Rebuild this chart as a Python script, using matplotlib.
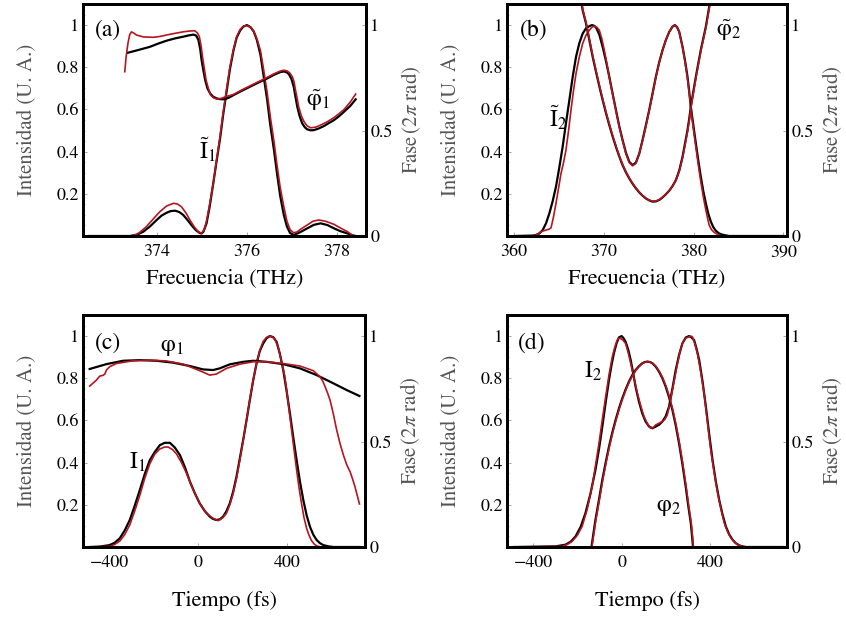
import matplotlib
matplotlib.use('Agg')
import matplotlib.pyplot as plt
from matplotlib.ticker import MultipleLocator

plt.rcParams['font.family'] = ['STIXGeneral', 'DejaVu Serif']
plt.rcParams['mathtext.fontset'] = 'stix'

BLACK = '#000000'
RED = '#b3161f'
GRAY = '#555555'

# ---------- (a) espectro del pulso 1 ----------
a_I_black_x = [372.49, 373.39, 373.55, 373.69, 373.84, 373.99, 374.10, 374.21, 374.30, 374.40, 374.49,
               374.58, 374.68, 374.77, 374.86, 374.95, 374.99, 375.03, 375.10, 375.17, 375.25, 375.32,
               375.40, 375.47, 375.55, 375.62, 375.70, 375.77, 375.85, 375.92, 376.00, 376.08, 376.15,
               376.22, 376.30, 376.37, 376.45, 376.52, 376.60, 376.67, 376.74, 376.82, 376.89, 376.96,
               377.04, 377.12, 377.20, 377.34, 377.49, 377.64, 377.79, 377.94, 378.09, 378.24, 378.34,
               378.42]
a_I_black_y = [0, 0, 0.006, 0.02, 0.045, 0.076, 0.097, 0.11, 0.118, 0.12, 0.114,
               0.10, 0.075, 0.05, 0.028, 0.014, 0.012, 0.02, 0.06, 0.14, 0.25, 0.35,
               0.46, 0.575, 0.69, 0.79, 0.88, 0.94, 0.975, 0.993, 1.0, 0.99, 0.97,
               0.93, 0.86, 0.76, 0.645, 0.525, 0.41, 0.295, 0.19, 0.10, 0.045, 0.014,
               0.005, 0.012, 0.02, 0.036, 0.053, 0.06, 0.052, 0.036, 0.022, 0.012, 0.004,
               0]
a_I_red_x = [372.49, 373.46, 373.60, 373.76, 373.91, 374.06, 374.21, 374.36, 374.45, 374.54, 374.64,
             374.73, 374.83, 374.92, 374.99, 375.05, 375.10, 375.17, 375.25, 375.32, 375.40, 375.47,
             375.55, 375.62, 375.70, 375.77, 375.85, 375.92, 376.00, 376.08, 376.15, 376.22, 376.30,
             376.37, 376.45, 376.52, 376.60, 376.67, 376.74, 376.82, 376.89, 376.96, 377.04, 377.12,
             377.20, 377.34, 377.47, 377.60, 377.75, 377.94, 378.09, 378.24, 378.32, 378.38]
a_I_red_y = [0, 0, 0.015, 0.044, 0.08, 0.115, 0.142, 0.155, 0.152, 0.139, 0.11,
             0.076, 0.042, 0.02, 0.013, 0.03, 0.07, 0.15, 0.25, 0.355, 0.47, 0.585,
             0.70, 0.80, 0.885, 0.945, 0.98, 0.995, 0.998, 0.99, 0.97, 0.935, 0.88,
             0.79, 0.68, 0.565, 0.45, 0.335, 0.23, 0.14, 0.07, 0.03, 0.015, 0.02,
             0.033, 0.052, 0.07, 0.076, 0.07, 0.055, 0.037, 0.02, 0.008, 0]
a_ph_black_x = [373.35, 373.60, 373.84, 374.02, 374.21, 374.40, 374.58, 374.70, 374.81, 374.87, 374.92,
                374.96, 374.99, 375.03, 375.07, 375.12, 375.18, 375.25, 375.33, 375.40, 375.48, 375.59,
                375.70, 375.88, 376.07, 376.26, 376.45, 376.60, 376.74, 376.82, 376.89, 376.94, 376.99,
                377.04, 377.08, 377.12, 377.17, 377.23, 377.29, 377.34, 377.42, 377.49, 377.60, 377.71,
                377.82, 377.94, 378.05, 378.16, 378.30, 378.42]
a_ph_black_y = [0.869, 0.883, 0.897, 0.912, 0.926, 0.937, 0.945, 0.951, 0.955, 0.95, 0.929,
                0.885, 0.834, 0.785, 0.739, 0.70, 0.676, 0.66, 0.652, 0.649, 0.648, 0.655,
                0.668, 0.688, 0.708, 0.728, 0.747, 0.764, 0.777, 0.78, 0.776, 0.765, 0.745,
                0.708, 0.66, 0.613, 0.57, 0.534, 0.515, 0.506, 0.501, 0.502, 0.51, 0.521,
                0.535, 0.55, 0.568, 0.589, 0.617, 0.648]
a_ph_red_x = [373.28, 373.31, 373.35, 373.39, 373.43, 373.48, 373.54, 373.69, 373.91, 374.06, 374.21,
              374.40, 374.58, 374.72, 374.84, 374.90, 374.94, 374.98, 375.01, 375.05, 375.09, 375.14,
              375.19, 375.26, 375.33, 375.42, 375.52, 375.70, 375.88, 376.07, 376.26, 376.45, 376.60,
              376.74, 376.82, 376.89, 376.95, 377.01, 377.05, 377.08, 377.12, 377.15, 377.21, 377.27,
              377.34, 377.42, 377.53, 377.64, 377.79, 377.94, 378.05, 378.16, 378.30, 378.42]
a_ph_red_y = [0.779, 0.85, 0.913, 0.955, 0.968, 0.962, 0.953, 0.944, 0.942, 0.946, 0.953,
              0.961, 0.968, 0.972, 0.973, 0.962, 0.945, 0.90, 0.85, 0.795, 0.739, 0.70,
              0.668, 0.655, 0.649, 0.652, 0.66, 0.671, 0.692, 0.712, 0.732, 0.752, 0.769,
              0.782, 0.786, 0.783, 0.774, 0.755, 0.73, 0.692, 0.65, 0.613, 0.57, 0.542,
              0.522, 0.513, 0.516, 0.526, 0.542, 0.562, 0.58, 0.60, 0.635, 0.673]

# ---------- (b) espectro del pulso 2 ----------
b_I_black_x = [360.07, 362.11, 362.48, 362.85, 363.22, 363.59, 363.96, 364.33, 364.70, 365.07, 365.44,
               365.81, 366.19, 366.56, 366.93, 367.30, 367.67, 368.04, 368.41, 368.70, 368.93, 369.15,
               369.52, 369.89, 370.26, 370.63, 371.00, 371.37, 371.74, 372.11, 372.48, 372.85, 373.22,
               373.59, 373.96, 374.33, 374.70, 375.07, 375.44, 375.81, 376.19, 376.56, 376.93, 377.30,
               377.67, 377.93, 378.17, 378.41, 378.78, 379.06, 379.33, 379.52, 379.70, 379.98, 380.26,
               380.54, 380.81, 381.09, 381.37, 381.65, 381.93, 382.20, 382.48, 382.85, 383.22, 383.96,
               389.89]
b_I_black_y = [0, 0.002, 0.005, 0.012, 0.028, 0.06, 0.107, 0.165, 0.234, 0.325, 0.423,
               0.535, 0.645, 0.755, 0.85, 0.915, 0.96, 0.985, 0.995, 1.0, 0.997, 0.989,
               0.955, 0.897, 0.83, 0.755, 0.675, 0.597, 0.52, 0.455, 0.395, 0.352, 0.336,
               0.348, 0.39, 0.455, 0.525, 0.597, 0.675, 0.755, 0.825, 0.882, 0.93, 0.968,
               0.993, 1.0, 0.99, 0.968, 0.897, 0.83, 0.755, 0.685, 0.613, 0.525, 0.439,
               0.355, 0.281, 0.212, 0.155, 0.105, 0.068, 0.042, 0.025, 0.012, 0.006, 0,
               0]
b_I_red_x = [362.11, 362.67, 363.04, 363.59, 363.96, 364.15, 364.42, 364.70, 365.00, 365.26, 365.55,
             365.81, 366.10, 366.37, 366.65, 366.93, 367.30, 367.67, 368.04, 368.41, 368.70, 368.96,
             369.24, 369.52, 369.80, 370.07, 370.35, 370.63, 371.00, 371.37, 371.74, 372.11, 372.48,
             372.85, 373.22, 373.59, 373.96, 374.33, 374.70, 375.07, 375.44, 375.81, 376.19, 376.56,
             376.93, 377.30, 377.67, 377.93, 378.17, 378.41, 378.78, 379.06, 379.33, 379.52, 379.70,
             379.98, 380.26, 380.54, 380.81, 381.09, 381.37, 381.56, 381.74, 382.00, 382.30, 382.85,
             383.41, 389.89]
b_I_red_y = [0, 0.008, 0.021, 0.028, 0.033, 0.039, 0.09, 0.155, 0.23, 0.297, 0.35,
             0.408, 0.50, 0.597, 0.69, 0.771, 0.85, 0.913, 0.952, 0.976, 0.99, 0.995,
             0.99, 0.976, 0.935, 0.882, 0.82, 0.752, 0.672, 0.594, 0.518, 0.452, 0.39,
             0.348, 0.333, 0.344, 0.39, 0.452, 0.52, 0.594, 0.672, 0.752, 0.822, 0.882,
             0.93, 0.968, 0.993, 1.0, 0.99, 0.968, 0.894, 0.825, 0.747, 0.68, 0.605,
             0.51, 0.423, 0.335, 0.258, 0.185, 0.123, 0.085, 0.052, 0.03, 0.017, 0.003,
             0, 0]
b_ph_black_x = [367.37, 367.67, 368.04, 368.41, 368.78, 369.15, 369.52, 369.89, 370.26, 370.63, 371.00,
                371.37, 371.74, 372.11, 372.48, 372.85, 373.22, 373.59, 373.96, 374.33, 374.70, 375.07,
                375.44, 375.81, 376.19, 376.56, 376.93, 377.30, 377.67, 378.04, 378.41, 378.78, 379.06,
                379.33, 379.52, 379.70, 379.98, 380.26, 380.54, 380.81, 381.09, 381.37, 381.60, 381.81,
                382.04]
b_ph_black_y = [1.15, 1.07, 1.008, 0.929, 0.85, 0.779, 0.71, 0.645, 0.583, 0.526, 0.472,
                0.423, 0.377, 0.336, 0.302, 0.273, 0.248, 0.226, 0.207, 0.191, 0.178, 0.169,
                0.163, 0.164, 0.171, 0.183, 0.198, 0.215, 0.237, 0.265, 0.31, 0.376, 0.44,
                0.502, 0.555, 0.613, 0.685, 0.755, 0.82, 0.882, 0.937, 0.992, 1.05, 1.103,
                1.15]
b_ph_red_x = [367.40, 367.70, 368.07, 368.44, 368.81, 369.18, 369.55, 369.92, 370.29, 370.66, 371.03,
              371.40, 371.77, 372.14, 372.51, 372.88, 373.25, 373.62, 373.99, 374.36, 374.73, 375.10,
              375.47, 375.84, 376.22, 376.59, 376.96, 377.33, 377.70, 378.07, 378.44, 378.81, 379.09,
              379.36, 379.55, 379.73, 380.01, 380.29, 380.57, 380.84, 381.12, 381.40, 381.63, 381.84,
              382.07]
b_ph_red_y = [1.15, 1.07, 1.008, 0.929, 0.85, 0.779, 0.71, 0.645, 0.583, 0.526, 0.472,
              0.423, 0.377, 0.336, 0.302, 0.273, 0.248, 0.226, 0.207, 0.191, 0.178, 0.169,
              0.165, 0.166, 0.173, 0.185, 0.2, 0.217, 0.239, 0.267, 0.31, 0.376, 0.44,
              0.502, 0.555, 0.613, 0.685, 0.755, 0.82, 0.882, 0.937, 0.992, 1.05, 1.103,
              1.15]

# ---------- (c) pulso 1 en el tiempo ----------
c_I_black_x = [-487, -442, -397, -375, -352, -330, -307, -285, -262, -240, -217, -195, -172, -150,
               -127, -105, -82, -60, -37, -15, 7, 30, 52, 67, 82, 97, 112, 127, 142, 157, 172, 187,
               202, 217, 232, 247, 262, 277, 292, 307, 322, 337, 352, 367, 382, 397, 412, 427, 442,
               457, 472, 487, 502, 517, 532, 547, 562, 585, 607, 724]
c_I_black_y = [0, 0.002, 0.009, 0.02, 0.041, 0.078, 0.128, 0.195, 0.27, 0.345, 0.412, 0.45, 0.483,
               0.494, 0.494, 0.472, 0.436, 0.38, 0.31, 0.255, 0.207, 0.17, 0.144, 0.133, 0.128,
               0.131, 0.144, 0.17, 0.207, 0.262, 0.333, 0.42, 0.507, 0.60, 0.697, 0.79, 0.87, 0.93,
               0.965, 0.99, 1.0, 0.995, 0.973, 0.915, 0.839, 0.74, 0.633, 0.52, 0.412, 0.31, 0.223,
               0.15, 0.096, 0.058, 0.033, 0.018, 0.009, 0.003, 0, 0]
c_I_red_x = [-487, -397, -375, -352, -330, -307, -285, -262, -240, -217, -195, -172, -150, -135,
             -115, -97, -75, -52, -22, 7, 37, 67, 90, 110, 127, 142, 157, 172, 187, 202, 217, 232,
             247, 262, 277, 292, 307, 320, 330, 345, 360, 375, 389, 400, 412, 427, 442, 453, 464,
             475, 487, 498, 509, 520, 532, 547, 562, 724]
c_I_red_y = [0, 0.003, 0.012, 0.028, 0.058, 0.105, 0.17, 0.245, 0.325, 0.395, 0.44, 0.465, 0.474,
             0.474, 0.462, 0.441, 0.40, 0.349, 0.27, 0.207, 0.16, 0.136, 0.125, 0.138, 0.16, 0.2,
             0.254, 0.325, 0.412, 0.505, 0.602, 0.70, 0.791, 0.87, 0.934, 0.975, 0.994, 1.0,
             0.998, 0.985, 0.945, 0.875, 0.807, 0.72, 0.618, 0.49, 0.365, 0.28, 0.207, 0.14,
             0.088, 0.055, 0.03, 0.015, 0.005, 0.001, 0, 0]
c_ph_black_x = [-487, -412, -337, -262, -187, -112, -37, 22, 67, 97, 142, 202, 247, 307, 382, 457,
                532, 607, 667, 724]
c_ph_black_y = [0.844, 0.867, 0.883, 0.886, 0.883, 0.874, 0.858, 0.842, 0.839, 0.847, 0.866, 0.878,
                0.883, 0.878, 0.867, 0.847, 0.815, 0.776, 0.744, 0.716]
c_ph_red_x = [-487, -457, -442, -427, -419, -412, -397, -367, -292, -217, -142, -67, 7, 52, 82, 127,
              187, 247, 307, 382, 457, 517, 547, 560, 570, 581, 592, 607, 622, 637, 652, 667, 682,
              694, 704, 714, 724]
c_ph_red_y = [0.763, 0.791, 0.81, 0.814, 0.82, 0.839, 0.855, 0.87, 0.883, 0.886, 0.882, 0.867,
              0.836, 0.815, 0.82, 0.847, 0.867, 0.878, 0.878, 0.87, 0.858, 0.836, 0.807, 0.785,
              0.76, 0.73, 0.697, 0.63, 0.554, 0.49, 0.436, 0.39, 0.357, 0.32, 0.286, 0.245, 0.204]

# ---------- (d) pulso 2 en el tiempo ----------
d_I_black_x = [-487, -298, -253, -230, -208, -185, -163, -140, -118, -102, -87, -72, -57, -46, -35,
               -23, -12, 0, 9, 18, 30, 41, 52, 63, 78, 93, 108, 124, 139, 154, 169, 184, 199, 214,
               229, 244, 259, 274, 289, 304, 316, 327, 338, 350, 365, 380, 395, 410, 425, 440, 455,
               470, 485, 500, 515, 530, 545, 561, 726]
d_I_black_y = [0, 0.003, 0.011, 0.025, 0.05, 0.095, 0.161, 0.255, 0.366, 0.465, 0.571, 0.685, 0.792,
               0.86, 0.918, 0.965, 0.994, 1.0, 0.99, 0.973, 0.935, 0.886, 0.825, 0.76, 0.69, 0.634,
               0.595, 0.571, 0.563, 0.571, 0.58, 0.595, 0.62, 0.666, 0.75, 0.839, 0.91, 0.965,
               0.993, 1.0, 0.993, 0.981, 0.94, 0.886, 0.785, 0.666, 0.535, 0.413, 0.31, 0.224,
               0.155, 0.098, 0.06, 0.035, 0.018, 0.008, 0.003, 0, 0]
d_I_red_x = [-487, -268, -245, -223, -200, -178, -155, -133, -118, -102, -87, -72, -57, -42, -30,
             -20, -12, -5, 5, 18, 30, 41, 56, 71, 86, 101, 116, 131, 142, 154, 169, 184, 195, 206,
             218, 229, 241, 252, 263, 274, 289, 304, 312, 319, 330, 342, 357, 372, 387, 402, 418,
             433, 448, 463, 478, 493, 508, 523, 540, 561, 726]
d_I_red_y = [0, 0.003, 0.012, 0.027, 0.055, 0.098, 0.18, 0.287, 0.385, 0.492, 0.605, 0.713, 0.815,
             0.902, 0.95, 0.981, 0.99, 0.989, 0.982, 0.965, 0.92, 0.871, 0.80, 0.729, 0.67, 0.618,
             0.585, 0.563, 0.566, 0.579, 0.587, 0.595, 0.605, 0.626, 0.68, 0.744, 0.81, 0.871,
             0.925, 0.965, 0.99, 0.997, 1.0, 0.997, 0.965, 0.918, 0.83, 0.729, 0.595, 0.461, 0.35,
             0.256, 0.18, 0.114, 0.072, 0.043, 0.024, 0.011, 0.004, 0, 0]
d_ph_black_x = [-136, -127, -118, -102, -87, -72, -57, -42, -27, -12, 3, 18, 33, 48, 63, 78, 93, 105,
                116, 128, 139, 154, 169, 184, 199, 214, 229, 244, 259, 274, 289, 300, 312, 317, 322]
d_ph_black_y = [0, 0.065, 0.129, 0.225, 0.319, 0.40, 0.476, 0.543, 0.603, 0.657, 0.705, 0.747,
                0.784, 0.815, 0.839, 0.857, 0.871, 0.877, 0.879, 0.877, 0.871, 0.855, 0.831, 0.80,
                0.76, 0.71, 0.65, 0.577, 0.492, 0.395, 0.287, 0.2, 0.114, 0.06, 0]
d_ph_red_x = [-134, -125, -116, -100, -85, -70, -55, -40, -25, -10, 5, 20, 35, 50, 65, 80, 95, 107,
              118, 130, 141, 156, 171, 186, 201, 216, 231, 246, 261, 276, 291, 302, 314, 319, 324]
d_ph_red_y = [0, 0.065, 0.129, 0.225, 0.319, 0.40, 0.476, 0.543, 0.603, 0.657, 0.705, 0.747,
              0.784, 0.815, 0.839, 0.857, 0.871, 0.877, 0.879, 0.877, 0.871, 0.855, 0.831, 0.80,
              0.76, 0.71, 0.65, 0.577, 0.492, 0.395, 0.287, 0.2, 0.114, 0.06, 0]

# etiquetas
freq_label = 'Frecuencia (THz)'
time_label = 'Tiempo (fs)'
left_label = 'Intensidad (U. A.)'
right_label = r'Fase$\,$(2$\pi$ rad)'
left_ticks = [0.2, 0.4, 0.6, 0.8, 1.0]
left_ticklabels = ['0.2', '0.4', '0.6', '0.8', '1']
right_ticks = [0, 0.5, 1.0]
right_ticklabels = ['0', '0.5', '1']


def style_panel(ax, xlim, xticks, xticklabels, xlabel, xlabelpad):
    ax.set_xlim(*xlim)
    ax.set_ylim(0, 1.1)
    ax.set_xticks(xticks)
    ax.set_xticklabels(xticklabels)
    ax.set_yticks(left_ticks)
    ax.set_yticklabels(left_ticklabels)
    ax.yaxis.set_minor_locator(MultipleLocator(0.05))
    ax.tick_params(which='both', direction='in', color='#999999', width=0.6, labelsize=13)
    ax.tick_params(which='major', length=3)
    ax.tick_params(which='minor', length=1.5)
    ax.tick_params(axis='x', pad=6)
    ax.tick_params(axis='y', pad=3)
    ax.set_xlabel(xlabel, fontsize=16, labelpad=xlabelpad)
    ax.set_ylabel(left_label, fontsize=15, color=GRAY, labelpad=14)
    for s in ax.spines.values():
        s.set_linewidth(2.0)
    ax2 = ax.twinx()
    ax2.set_ylim(0, 1.1)
    ax2.set_yticks(right_ticks)
    ax2.set_yticklabels(right_ticklabels)
    ax2.tick_params(direction='in', color='#999999', width=0.6, length=3, labelsize=13, pad=3)
    ax2.set_ylabel(right_label, fontsize=15, color=GRAY, labelpad=5)
    for s in ax2.spines.values():
        s.set_linewidth(2.0)
    return ax2


def draw(ax, bx, by, rx, ry):
    ax.plot(bx, by, color=BLACK, lw=1.6)
    ax.plot(rx, ry, color=RED, lw=1.2)


fig = plt.figure(figsize=(8.46, 6.22), dpi=100)
W, H = 846, 622
ax_a = fig.add_axes([83 / W, (H - 236) / H, 283 / W, 232 / H])
ax_b = fig.add_axes([507 / W, (H - 236) / H, 280 / W, 232 / H])
ax_c = fig.add_axes([83 / W, (H - 547) / H, 282 / W, 232 / H])
ax_d = fig.add_axes([507 / W, (H - 547) / H, 280 / W, 232 / H])

ax_a2 = style_panel(ax_a, (372.35, 378.65), [374, 376, 378], ['374', '376', '378'], freq_label, 6)
ax_b2 = style_panel(ax_b, (359.25, 390.4), [360, 370, 380, 390], ['360', '370', '380', '390'], freq_label, 6)
ax_c2 = style_panel(ax_c, (-517, 749), [-400, 0, 400], ['\u2212400', '0', '400'], time_label, 14)
ax_d2 = style_panel(ax_d, (-517, 746), [-400, 0, 400], ['\u2212400', '0', '400'], time_label, 14)

draw(ax_a, a_I_black_x, a_I_black_y, a_I_red_x, a_I_red_y)
draw(ax_a2, a_ph_black_x, a_ph_black_y, a_ph_red_x, a_ph_red_y)
draw(ax_b, b_I_black_x, b_I_black_y, b_I_red_x, b_I_red_y)
draw(ax_b2, b_ph_black_x, b_ph_black_y, b_ph_red_x, b_ph_red_y)
draw(ax_c, c_I_black_x, c_I_black_y, c_I_red_x, c_I_red_y)
draw(ax_c2, c_ph_black_x, c_ph_black_y, c_ph_red_x, c_ph_red_y)
draw(ax_d, d_I_black_x, d_I_black_y, d_I_red_x, d_I_red_y)
draw(ax_d2, d_ph_black_x, d_ph_black_y, d_ph_red_x, d_ph_red_y)

# anotaciones
tk = dict(fontsize=17, ha='center', va='center')
ax_a.text(372.9, 0.976, '(a)', **tk)
ax_a.text(375.13, 0.41, r'$\tilde{\mathrm{I}}_1$', **tk)
ax_a.text(377.57, 0.645, r'$\tilde{\mathrm{\varphi}}_1$', **tk)
ax_b.text(362.2, 0.976, '(b)', **tk)
ax_b.text(364.9, 0.56, r'$\tilde{\mathrm{I}}_2$', **tk)
ax_b.text(383.9, 0.976, r'$\tilde{\mathrm{\varphi}}_2$', **tk)
ax_c.text(-406, 0.967, '(c)', **tk)
ax_c.text(-118, 0.948, r'$\mathrm{\varphi}_1$', **tk)
ax_c.text(-275, 0.40, r'$\mathrm{I}_1$', **tk)
ax_d.text(-404, 0.967, '(d)', **tk)
ax_d.text(-128, 0.834, r'$\mathrm{I}_2$', **tk)
ax_d.text(211, 0.19, r'$\mathrm{\varphi}_2$', **tk)

fig.savefig('out.png', dpi=100)
